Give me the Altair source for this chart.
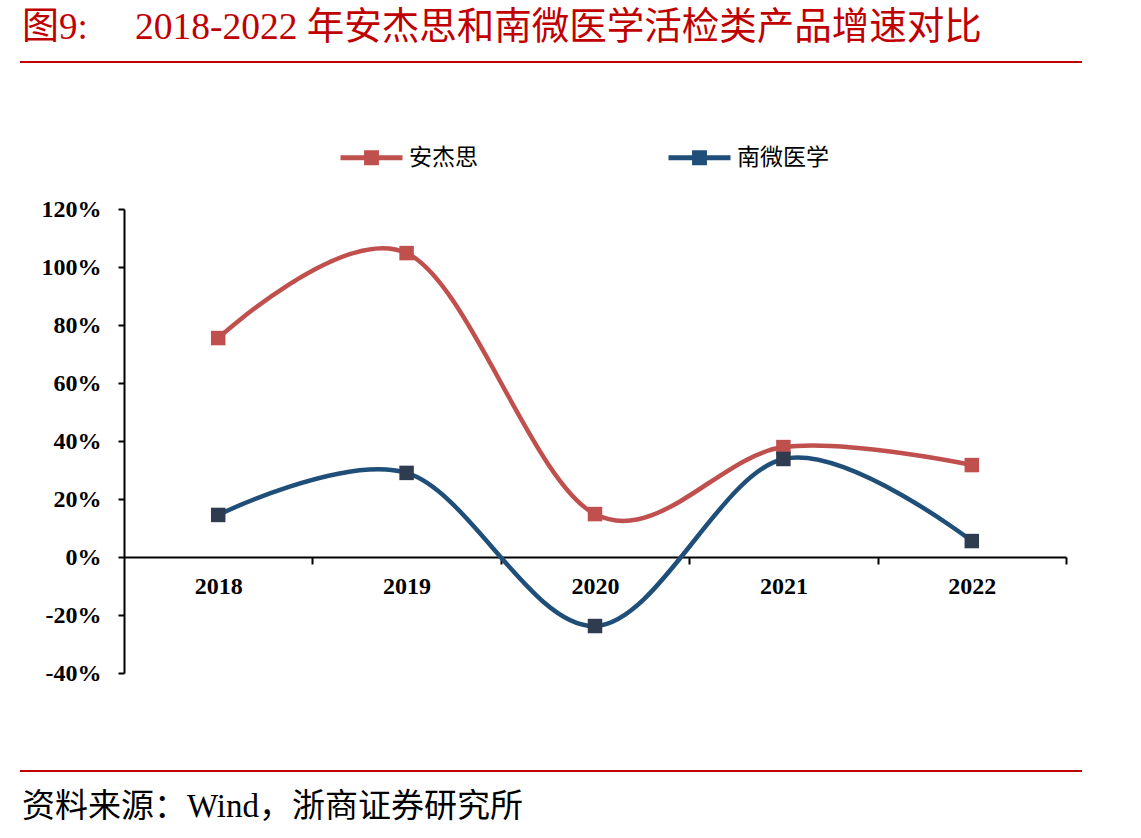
import altair as alt
import pandas as pd

years = [2018, 2019, 2020, 2021, 2022]
series_names = ["安杰思", "南微医学"]
anjiesi = [0.755, 1.048, 0.148, 0.379, 0.317]
nanwei = [0.145, 0.290, -0.238, 0.338, 0.055]

title_prefix = "图9:"
title_main = "2018-2022 年安杰思和南微医学活检类产品增速对比"
source_text = "资料来源：Wind，浙商证券研究所"

line_colors = ["#C0504D", "#1F4E79"]
marker_colors = ["#C0504D", "#2F3B4F"]
red = "#C00000"
latin_cjk_font = "Liberation Serif, Noto Sans CJK SC"

rows = []
for name, vals in zip(series_names, [anjiesi, nanwei]):
    for y, v in zip(years, vals):
        rows.append({"year": y, "series": name, "value": v})
df = pd.DataFrame(rows)

LEFT, TOP = 124, 209
W, H = 942, 464
step = W / len(years)

x_enc = alt.X(
    "year:Q",
    scale=alt.Scale(domain=[years[0] - 0.5, years[-1] + 0.5], nice=False, zero=False),
    axis=alt.Axis(
        title=None,
        values=[y + 0.5 for y in years],
        labelExpr="format(datum.value - 0.5, 'd')",
        labelOffset=-step / 2,
        offset=-116,
        grid=False,
        domainColor="black",
        domainWidth=2,
        tickColor="black",
        tickWidth=2,
        tickSize=7,
        labelFont="Liberation Serif",
        labelFontWeight="bold",
        labelFontSize=24,
        labelColor="black",
        labelPadding=10,
        labelFlush=False,
        labelOverlap=False,
    ),
)
y_enc = alt.Y(
    "value:Q",
    scale=alt.Scale(domain=[-0.4, 1.2], nice=False, zero=False),
    axis=alt.Axis(
        title=None,
        values=[-0.4, -0.2, 0, 0.2, 0.4, 0.6, 0.8, 1.0, 1.2],
        labelExpr="round(datum.value * 100) + '%'",
        grid=False,
        domainColor="black",
        domainWidth=2,
        tickColor="black",
        tickWidth=2,
        tickSize=6,
        labelFont="Liberation Serif",
        labelFontWeight="bold",
        labelFontSize=24,
        labelColor="black",
        labelPadding=17,
    ),
)

legend_path = ("M-1,0H1M-0.24,-0.16H0.24M-0.24,-0.08H0.24M-0.24,0.08H0.24M-0.24,0.16H0.24")

base = alt.Chart(df)
lines = base.mark_line(interpolate="cardinal", strokeWidth=4.5).encode(
    x=x_enc,
    y=y_enc,
    color=alt.Color(
        "series:N",
        scale=alt.Scale(domain=series_names, range=line_colors),
        legend=alt.Legend(
            title=None,
            orient="none",
            legendX=338 - LEFT,
            legendY=-85,
            direction="horizontal",
            columns=2,
            columnPadding=180,
            symbolType=legend_path,
            symbolSize=3844,
            symbolStrokeWidth=5,
            labelFont="Noto Sans CJK SC",
            labelFontSize=23,
            labelColor="black",
            labelOffset=4,
            padding=0,
        ),
    ),
    detail="series:N",
)
points = base.mark_square(size=210, opacity=1).encode(
    x="year:Q",
    y="value:Q",
    fill=alt.Fill("series:N", scale=alt.Scale(domain=series_names, range=marker_colors), legend=None),
)

t1 = alt.Chart(pd.DataFrame({"t": [title_prefix]})).mark_text(
    align="left", baseline="alphabetic", font=latin_cjk_font, fontSize=37, color=red
).encode(text="t:N", x=alt.value(22 - LEFT), y=alt.value(39 - TOP))
t2 = alt.Chart(pd.DataFrame({"t": [title_main]})).mark_text(
    align="left", baseline="alphabetic", font=latin_cjk_font, fontSize=37.5, color=red
).encode(text="t:N", x=alt.value(135 - LEFT), y=alt.value(39 - TOP))
src = alt.Chart(pd.DataFrame({"t": [source_text]})).mark_text(
    align="left", baseline="alphabetic", font=latin_cjk_font, fontSize=33, color="black"
).encode(text="t:N", x=alt.value(22 - LEFT), y=alt.value(817 - TOP))

rule_top = alt.Chart(pd.DataFrame({"k": ["top"]})).mark_rule(color=red, strokeWidth=2).encode(
    x=alt.value(20 - LEFT), x2=alt.value(1082 - LEFT), y=alt.value(62 - TOP)
)
rule_bot = alt.Chart(pd.DataFrame({"k": ["bottom"]})).mark_rule(color=red, strokeWidth=2).encode(
    x=alt.value(20 - LEFT), x2=alt.value(1082 - LEFT), y=alt.value(771 - TOP)
)

chart = alt.layer(lines, points, t1, t2, src, rule_top, rule_bot).resolve_scale(
    fill="independent"
).properties(
    width=W,
    height=H,
    padding={"left": LEFT, "top": TOP, "right": 1141 - LEFT - W, "bottom": 838 - TOP - H},
    autosize=alt.AutoSizeParams(type="none"),
    background="white",
).configure_view(stroke=None)

chart.save("out.html", embed_options={"renderer": "svg", "actions": False})
